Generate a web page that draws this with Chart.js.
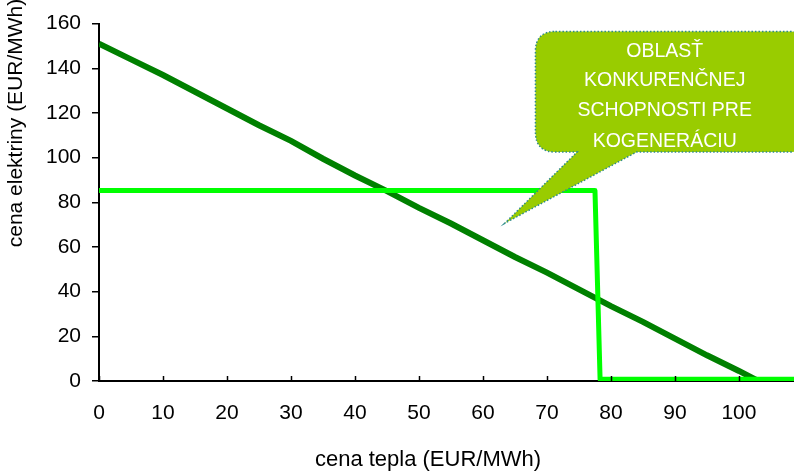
<!DOCTYPE html>
<html>
<head>
<meta charset="utf-8">
<script src="https://cdn.jsdelivr.net/npm/chart.js@4.4.1/dist/chart.umd.min.js"></script>
<style>
    html, body { margin: 0; padding: 0; background: #ffffff; }
    #wrap { width: 794px; height: 471px; }
</style>
</head>
<body>
<div id="wrap"><canvas id="cogenChart" width="794" height="471"></canvas></div>
<script>
// ===================================
// Kogenerácia - cena elektriny vs cena tepla
// ===================================

// dark line: cena elektriny for CHP
const heatPrice = [0, 5, 10, 15, 20, 25, 30, 35, 40, 45, 50, 55, 60, 65, 70, 75, 80, 85, 90, 95, 100, 103];
const elecPrice = [151, 144, 137, 129.5, 122, 114.5, 107.5, 99.5, 92, 85, 77.5, 70.5, 63, 55.5, 48.5, 41, 33.5, 26.5, 19, 11.5, 4.5, 0];

// bright line: limit of competitiveness
const limitX = [0, 77.5, 78.3, 108.6];
const limitY = [85.3, 85.3, 0.8, 0.8];

// axes
const xTicks = [0, 10, 20, 30, 40, 50, 60, 70, 80, 90, 100];
const yMax = 160;
const xMax = 108.6;

// callout text (data units for the shape)
const calloutLines = ['OBLASŤ', 'KONKURENČNEJ', 'SCHOPNOSTI PRE', 'KOGENERÁCIU'];
const calloutTip = { x: 63.4, y: 70.6 };

const xTitle = 'cena tepla (EUR/MWh)';
const yTitle = 'cena elektriny (EUR/MWh)';

const FONT = 'Arial, "Liberation Sans", sans-serif';

function toPoints(xs, ys) {
    return xs.map((x, i) => ({ x: x, y: ys[i] }));
}

// draw inward x ticks, callout and axis titles
const extrasPlugin = {
    id: 'extras',
    afterDatasetsDraw(chart) {
        const ctx = chart.ctx;
        const xs = chart.scales.x;
        const ys = chart.scales.y;
        const area = chart.chartArea;

        // inward tick marks on x axis
        ctx.save();
        ctx.strokeStyle = '#000000';
        ctx.lineWidth = 1.5;
        xTicks.forEach(v => {
            const px = Math.round(xs.getPixelForValue(v)) + 0.5;
            ctx.beginPath();
            ctx.moveTo(px, area.bottom);
            ctx.lineTo(px, area.bottom - 5);
            ctx.stroke();
        });
        ctx.restore();

        // callout bubble
        const left = xs.getPixelForValue(68.2);
        const right = 810;
        const top = ys.getPixelForValue(156.5);
        const bottom = ys.getPixelForValue(102.5);
        const baseL = xs.getPixelForValue(74.7);
        const baseR = xs.getPixelForValue(84.0);
        const tipX = xs.getPixelForValue(calloutTip.x);
        const tipY = ys.getPixelForValue(calloutTip.y);
        const r = 20;

        ctx.save();
        ctx.beginPath();
        ctx.moveTo(left + r, top);
        ctx.lineTo(right - r, top);
        ctx.quadraticCurveTo(right, top, right, top + r);
        ctx.lineTo(right, bottom - r);
        ctx.quadraticCurveTo(right, bottom, right - r, bottom);
        ctx.lineTo(baseR, bottom);
        ctx.lineTo(tipX, tipY);
        ctx.lineTo(baseL, bottom);
        ctx.lineTo(left + r, bottom);
        ctx.quadraticCurveTo(left, bottom, left, bottom - r);
        ctx.lineTo(left, top + r);
        ctx.quadraticCurveTo(left, top, left + r, top);
        ctx.closePath();
        ctx.fillStyle = '#99CC00';
        ctx.fill();
        ctx.setLineDash([1.5, 2]);
        ctx.lineWidth = 1.5;
        ctx.strokeStyle = '#2E8B8B';
        ctx.stroke();
        ctx.setLineDash([]);

        ctx.fillStyle = '#ffffff';
        ctx.font = '19.5px ' + FONT;
        ctx.textAlign = 'center';
        ctx.textBaseline = 'middle';
        const cx = xs.getPixelForValue(88.4);
        const lineYs = [52, 81, 111, 142];
        calloutLines.forEach((t, i) => {
            ctx.fillText(t, cx, lineYs[i]);
        });
        ctx.restore();

        // axis titles
        ctx.save();
        ctx.fillStyle = '#000000';
        ctx.textAlign = 'center';
        ctx.textBaseline = 'middle';
        ctx.font = '22px ' + FONT;
        ctx.fillText(xTitle, 428, 460);
        ctx.font = '21px ' + FONT;
        ctx.translate(16, 123);
        ctx.rotate(-Math.PI / 2);
        ctx.fillText(yTitle, 0, 0);
        ctx.restore();
    }
};

const cogenChart = new Chart(document.getElementById('cogenChart'), {
    type: 'scatter',
    data: {
        datasets: [
            {
                label: 'hranica',
                data: toPoints(limitX, limitY),
                showLine: true,
                borderColor: '#00FF00',
                borderWidth: 5,
                pointRadius: 0,
                tension: 0,
                borderJoinStyle: 'round'
            },
            {
                label: 'cena elektriny',
                data: toPoints(heatPrice, elecPrice),
                showLine: true,
                borderColor: '#008000',
                borderWidth: 6,
                pointRadius: 0,
                tension: 0
            }
        ]
    },
    options: {
        responsive: false,
        animation: false,
        layout: {
            padding: { top: 23, left: 0, right: 0, bottom: 0 }
        },
        plugins: {
            legend: { display: false },
            tooltip: { enabled: false }
        },
        scales: {
            x: {
                type: 'linear',
                min: 0,
                max: xMax,
                afterBuildTicks: function(scale) {
                    scale.ticks = xTicks.map(v => ({ value: v }));
                },
                afterFit: function(scale) {
                    scale.height = 90;
                },
                grid: { display: false },
                border: { display: true, color: '#000000', width: 2 },
                ticks: {
                    color: '#000000',
                    padding: 12,
                    maxRotation: 0,
                    font: { family: FONT, size: 21 }
                }
            },
            y: {
                type: 'linear',
                min: 0,
                max: yMax,
                afterFit: function(scale) {
                    scale.width = 99;
                },
                grid: {
                    drawOnChartArea: false,
                    drawTicks: true,
                    tickLength: 7,
                    color: '#000000',
                    lineWidth: 1.5
                },
                border: { display: true, color: '#000000', width: 2 },
                ticks: {
                    stepSize: 20,
                    color: '#000000',
                    padding: 11,
                    font: { family: FONT, size: 21 }
                }
            }
        }
    },
    plugins: [extrasPlugin]
});
</script>
</body>
</html>
